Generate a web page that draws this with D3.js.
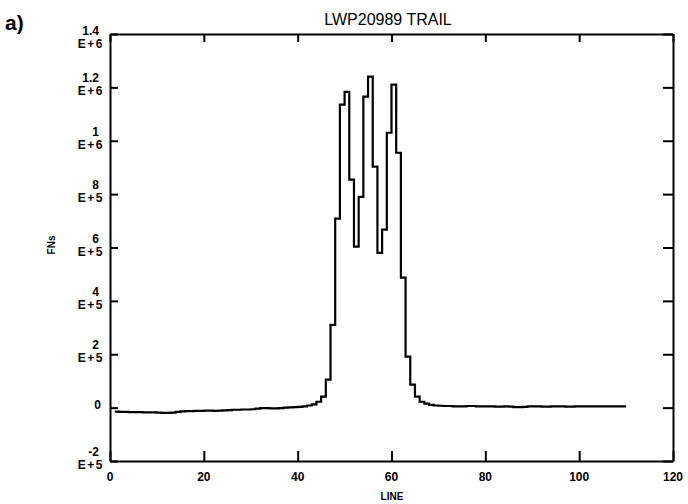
<!DOCTYPE html>
<html>
<head>
<meta charset="utf-8">
<script src="https://cdn.jsdelivr.net/npm/d3@7"></script>
<style>
  body { margin: 0; background: #fff; }
  text { font-family: "Liberation Sans", Arial, sans-serif; fill: #000; }
</style>
</head>
<body>
<div id="chart"></div>
<script>
// data: FNs per LINE (step plot)
var lines = d3.range(1, 111);
var fns = [
  -15000, -16000, -16000, -17000, -17000, -17000, -18000, -18000, -18000, -19000,
  -20000, -20000, -19000, -16000, -14000, -13000, -13000, -12000, -12000, -11000,
  -11000, -12000, -11000, -10000, -9000, -8000, -8000, -7000, -7000, -6000,
  -4000, -2000, -2000, -3000, -3000, -2000, 0, 1000, 2000, 3000,
  5000, 8000, 12000, 22000, 41000, 105000, 310000, 708000, 1135000, 1183000,
  854000, 603000, 790000, 1165000, 1240000, 903000, 580000, 667000, 1030000, 1210000,
  955000, 487000, 191000, 86000, 41000, 22000, 15000, 10000, 8000, 7000,
  6000, 6000, 5000, 5000, 5000, 6000, 6000, 5000, 5000, 5000,
  5000, 4000, 4000, 5000, 4000, 2000, 2000, 3000, 5000, 5000,
  5000, 4000, 4000, 5000, 5000, 5000, 4000, 4000, 5000, 5000,
  5000, 5000, 5000, 5000, 5000, 5000, 5000, 5000, 5000, 5000
];

var xTicks = [0, 20, 40, 60, 80, 100, 120];
var yTicks = [1.4e6, 1.2e6, 1e6, 8e5, 6e5, 4e5, 2e5, 0, -2e5];
var yTickNum = ["1.4", "1.2", "1", "8", "6", "4", "2", "0", "-2"];
var yTickExp = ["E+6", "E+6", "E+6", "E+5", "E+5", "E+5", "E+5", "", "E+5"];

var W = 688, H = 504;
var margin = { top: 34, right: 15, bottom: 43, left: 110 };

var svg = d3.select("#chart").append("svg")
    .attr("width", W)
    .attr("height", H);

var x = d3.scaleLinear().domain([0, 120]).range([margin.left, W - margin.right]);
var y = d3.scaleLinear().domain([-2e5, 1.4e6]).range([H - margin.bottom, margin.top]);

// frame with inward ticks on all four sides
function styleAxis(g) {
  g.selectAll("path").attr("stroke", "#000").attr("stroke-width", 2);
  g.selectAll("line").attr("stroke", "#000").attr("stroke-width", 2);
  g.selectAll("text").remove();
}
svg.append("g")
    .attr("transform", "translate(0," + y(-2e5) + ")")
    .call(d3.axisBottom(x).tickValues(xTicks).tickSizeInner(-10).tickSizeOuter(0))
    .call(styleAxis);
svg.append("g")
    .attr("transform", "translate(0," + y(1.4e6) + ")")
    .call(d3.axisTop(x).tickValues(xTicks).tickSizeInner(-8).tickSizeOuter(0))
    .call(styleAxis);
svg.append("g")
    .attr("transform", "translate(" + x(0) + ",0)")
    .call(d3.axisLeft(y).tickValues(yTicks).tickSizeInner(-8).tickSizeOuter(0))
    .call(styleAxis);
svg.append("g")
    .attr("transform", "translate(" + x(120) + ",0)")
    .call(d3.axisRight(y).tickValues(yTicks).tickSizeInner(-10).tickSizeOuter(0))
    .call(styleAxis);

// y tick labels, two lines each
yTicks.forEach(function (v, i) {
  var ty = y(v);
  if (yTickExp[i] === "") {
    svg.append("text").attr("x", 101).attr("y", ty + 1)
        .attr("text-anchor", "end").attr("font-size", 12).attr("font-weight", "bold")
        .text(yTickNum[i]);
    return;
  }
  var shift = (i === 0) ? 6 : 0;
  svg.append("text").attr("x", 99).attr("y", ty - 5 + shift)
      .attr("text-anchor", "end").attr("font-size", 12).attr("font-weight", "bold")
      .text(yTickNum[i]);
  svg.append("text").attr("x", 104).attr("y", ty + 8 + shift)
      .attr("text-anchor", "end").attr("font-size", 12).attr("font-weight", "bold")
      .attr("letter-spacing", 1.5)
      .text(yTickExp[i]);
});

// x tick labels
svg.selectAll(".xl").data(xTicks).enter().append("text")
    .attr("x", function (d) { return x(d); })
    .attr("y", 481)
    .attr("text-anchor", "middle")
    .attr("font-size", 12)
    .attr("font-weight", "bold")
    .text(function (d) { return d; });

// step line
var pts = lines.map(function (d, i) { return [d, fns[i]]; });
var line = d3.line()
    .x(function (d) { return x(d[0]); })
    .y(function (d) { return y(d[1]); })
    .curve(d3.curveStepAfter);
svg.append("path")
    .datum(pts)
    .attr("fill", "none")
    .attr("stroke", "#000")
    .attr("stroke-width", 2.2)
    .attr("d", line);

// titles
svg.append("text").attr("x", 388).attr("y", 25)
    .attr("text-anchor", "middle").attr("font-size", 16)
    .text("LWP20989 TRAIL");
svg.append("text").attr("x", 5).attr("y", 30)
    .attr("font-size", 21).attr("font-weight", "bold")
    .text("a)");
svg.append("text").attr("x", 392).attr("y", 500)
    .attr("text-anchor", "middle").attr("font-size", 10).attr("font-weight", "bold")
    .text("LINE");
svg.append("text")
    .attr("transform", "translate(55,245) rotate(-90)")
    .attr("text-anchor", "middle").attr("font-size", 10).attr("font-weight", "bold")
    .text("FNs");
</script>
</body>
</html>
